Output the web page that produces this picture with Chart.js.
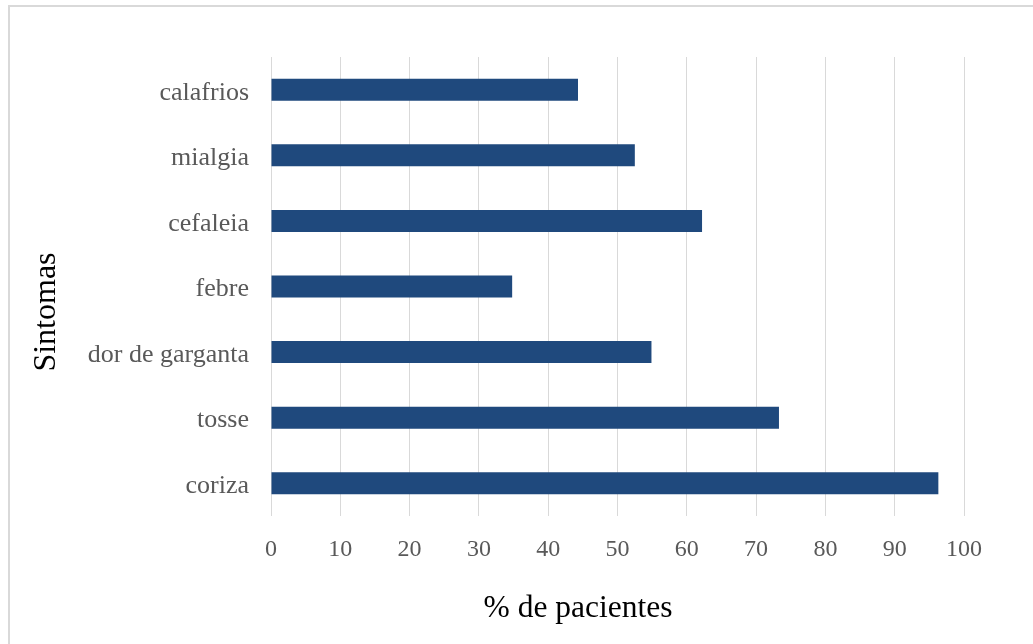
<!DOCTYPE html>
<html>
<head>
<meta charset="utf-8">
<title>Sintomas</title>
<script src="https://cdn.jsdelivr.net/npm/chart.js@4/dist/chart.umd.min.js"></script>
<style>
  html, body { margin: 0; padding: 0; background: #ffffff; }
  body { width: 1033px; height: 644px; overflow: hidden; position: relative; }
  #frame {
    position: absolute; left: 8px; top: 5px; width: 1040px; height: 660px;
    border-top: 2px solid #d9d9d9; border-left: 2px solid #d9d9d9;
    box-sizing: border-box;
  }
  #chart { position: absolute; left: 0; top: 0; }
</style>
</head>
<body>
<div id="frame"></div>
<canvas id="chart" width="1033" height="644"></canvas>
<script>
// Symptom categories, listed top to bottom
const symptoms = ['calafrios', 'mialgia', 'cefaleia', 'febre', 'dor de garganta', 'tosse', 'coriza'];
// Share of patients reporting each symptom (%)
const patientPct = [44.3, 52.5, 62.2, 34.8, 54.9, 73.3, 96.3];
// Percentage axis ticks
const pctTicks = [0, 10, 20, 30, 40, 50, 60, 70, 80, 90, 100];
// Axis captions
const xCaption = '% de pacientes';
const yCaption = 'Sintomas';

const serif = '"Liberation Serif", "Times New Roman", serif';

// Axis captions sit off-centre from the plot, so they are drawn here
const axisCaptions = {
  id: 'axisCaptions',
  afterDraw(chart) {
    const { ctx, chartArea } = chart;
    ctx.save();
    ctx.fillStyle = '#000000';
    ctx.textAlign = 'center';
    ctx.textBaseline = 'alphabetic';
    ctx.font = '31.5px ' + serif;
    ctx.fillText(xCaption, chartArea.left + 307, chartArea.bottom + 101);
    ctx.translate(55, chartArea.top + 255);
    ctx.rotate(-Math.PI / 2);
    ctx.font = '32px ' + serif;
    ctx.fillText(yCaption, 0, 0);
    ctx.restore();
  }
};

new Chart(document.getElementById('chart'), {
  type: 'bar',
  data: {
    labels: symptoms,
    datasets: [{
      data: patientPct,
      backgroundColor: '#1f497d',
      borderWidth: 0,
      barPercentage: 0.336,
      categoryPercentage: 1.0
    }]
  },
  plugins: [axisCaptions],
  options: {
    indexAxis: 'y',
    responsive: false,
    animation: false,
    layout: { padding: { left: 10, top: 57, right: 69, bottom: 0 } },
    plugins: {
      legend: { display: false },
      tooltip: { enabled: false }
    },
    scales: {
      x: {
        type: 'linear',
        min: pctTicks[0],
        max: pctTicks[pctTicks.length - 1],
        afterBuildTicks: (scale) => { scale.ticks = pctTicks.map(v => ({ value: v })); },
        afterFit: (scale) => { scale.height = 128; },
        grid: { color: '#d9d9d9', lineWidth: 1, drawTicks: false },
        border: { display: false },
        ticks: {
          color: '#595959',
          font: { family: serif, size: 24 },
          padding: 19,
          maxRotation: 0
        }
      },
      y: {
        type: 'category',
        afterFit: (scale) => { scale.width = 261; },
        grid: { display: false, drawTicks: false },
        border: { display: false },
        ticks: {
          color: '#595959',
          font: { family: serif, size: 26 },
          padding: 22,
          labelOffset: 3
        }
      }
    }
  }
});
</script>
</body>
</html>
